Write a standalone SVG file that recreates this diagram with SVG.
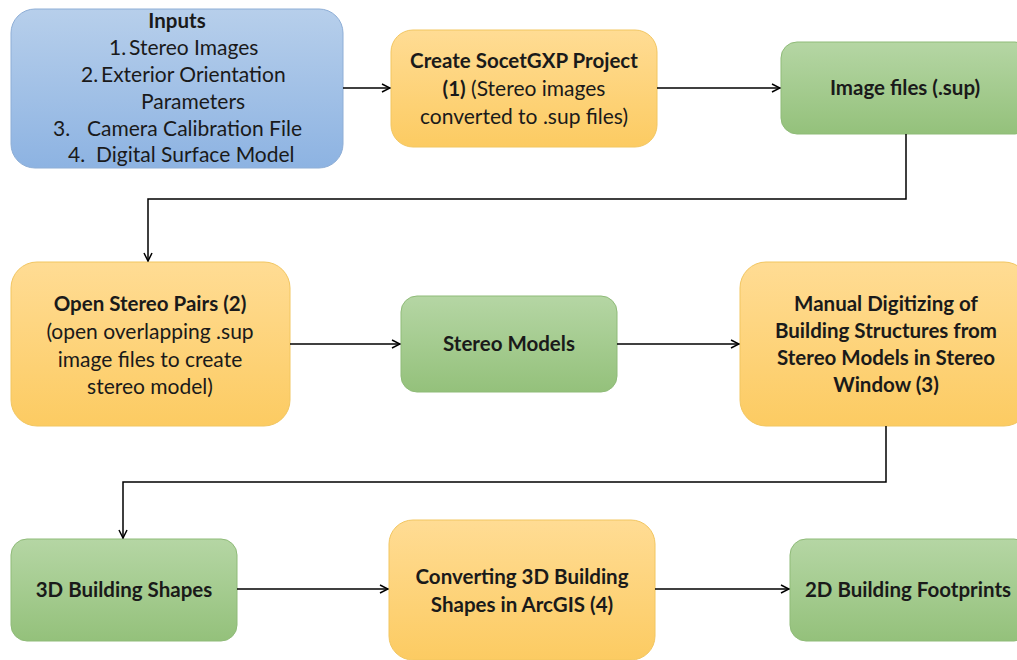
<svg xmlns="http://www.w3.org/2000/svg" width="1017" height="660" viewBox="0 0 1017 660">
<defs>
<linearGradient id="gb" x1="0" y1="0" x2="0" y2="1"><stop offset="0" stop-color="#b7cfeb"/><stop offset="1" stop-color="#8db3e2"/></linearGradient>
<linearGradient id="go" x1="0" y1="0" x2="0" y2="1"><stop offset="0" stop-color="#ffdc94"/><stop offset="1" stop-color="#fccb62"/></linearGradient>
<linearGradient id="gg" x1="0" y1="0" x2="0" y2="1"><stop offset="0" stop-color="#b5d6a4"/><stop offset="1" stop-color="#94c17b"/></linearGradient>
<marker id="ah" markerWidth="10" markerHeight="10" refX="9" refY="5" orient="auto" markerUnits="userSpaceOnUse"><path d="M1,1 L9,5 L1,9" fill="none" stroke="#000" stroke-width="1.5"/></marker>
</defs>
<style>
.b{fill:url(#gb);stroke:#8eaed6;stroke-width:1}
.o{fill:url(#go);stroke:#f2c661;stroke-width:1}
.g{fill:url(#gg);stroke:#8fbb78;stroke-width:1}
text{font-family:"Lato","Open Sans","Liberation Sans",sans-serif;font-size:21px;fill:#1a1a1a;text-anchor:middle}
.bd{font-weight:bold;font-size:20.5px}
.l{text-anchor:start}
.c{fill:none;stroke:#000;stroke-width:1.5;marker-end:url(#ah)}
</style>
<rect width="1017" height="660" fill="#fff"/>
<g id="inputs"><rect class="b" x="11" y="9" width="332" height="159" rx="24"/>
<text x="177" y="28" class="bd">Inputs</text>
<text class="l" x="109" y="55">1.</text><text class="l" x="129" y="55">Stereo Images</text>
<text class="l" x="81" y="82">2.</text><text class="l" x="101" y="82">Exterior Orientation</text>
<text x="193" y="109">Parameters</text>
<text class="l" x="53" y="136">3.</text><text class="l" x="87" y="136">Camera Calibration File</text>
<text class="l" x="68" y="162">4.</text><text class="l" x="96" y="162">Digital Surface Model</text></g>
<g id="create"><rect class="o" x="391" y="30" width="266" height="117" rx="22"/>
<text x="524" y="68" class="bd">Create SocetGXP Project</text>
<text x="524" y="96"><tspan class="bd">(1)</tspan> (Stereo images</text>
<text x="524" y="124">converted to .sup files)</text></g>
<g id="imagefiles"><rect class="g" x="781" y="42" width="250" height="92" rx="16"/>
<text x="905" y="95" class="bd">Image files (.sup)</text></g>
<g id="openpairs"><rect class="o" x="11" y="262" width="279" height="164" rx="26"/>
<text x="150" y="311" class="bd">Open Stereo Pairs (2)</text>
<text x="150" y="339">(open overlapping .sup</text>
<text x="150" y="367">image files to create</text>
<text x="150" y="394">stereo model)</text></g>
<g id="stereomodels"><rect class="g" x="401" y="296" width="216" height="96" rx="16"/>
<text x="509" y="351" class="bd">Stereo Models</text></g>
<g id="manual"><rect class="o" x="740" y="262" width="290" height="164" rx="26"/>
<text x="886" y="311" class="bd">Manual Digitizing of</text>
<text x="886" y="338" class="bd">Building Structures from</text>
<text x="886" y="365" class="bd">Stereo Models in Stereo</text>
<text x="886" y="392" class="bd">Window (3)</text></g>
<g id="shapes3d"><rect class="g" x="11" y="539" width="226" height="102" rx="16"/>
<text x="124" y="597" class="bd">3D Building Shapes</text></g>
<g id="converting"><rect class="o" x="389" y="520" width="266" height="140" rx="24"/>
<text x="522" y="584" class="bd">Converting 3D Building</text>
<text x="522" y="612" class="bd">Shapes in ArcGIS (4)</text></g>
<g id="footprints"><rect class="g" x="790" y="539" width="240" height="102" rx="16"/>
<text x="908" y="597" class="bd">2D Building Footprints</text></g>
<g id="connectors">
<path class="c" d="M343,88 H390"/>
<path class="c" d="M657,88 H780"/>
<path class="c" d="M906,134 V199 H148 V261"/>
<path class="c" d="M290,344 H400"/>
<path class="c" d="M617,344 H739"/>
<path class="c" d="M886,426 V482 H123 V538"/>
<path class="c" d="M237,589 H388"/>
<path class="c" d="M655,589 H789"/>
</g>
</svg>
